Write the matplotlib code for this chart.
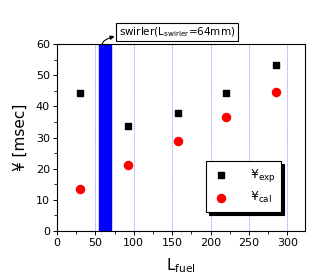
"""Delay time vs fuel injection length."""

import matplotlib.pyplot as plt
from matplotlib.ticker import MultipleLocator

l_fuel = [30, 92, 158, 220, 285]
tau_exp = [44.3, 33.7, 37.8, 44.2, 53.3]
tau_cal = [13.4, 21.1, 28.8, 36.6, 44.5]
grid_x = [50, 100, 150, 200, 250, 300]
swirler_span = (55, 70)

fig = plt.figure(figsize=(3.13, 2.74), dpi=100)
ax = fig.add_axes([57 / 313, 1 - 231 / 274, 248 / 313, 187 / 274])

for gx in grid_x:
    ax.axvline(gx, color="#8888ff", linestyle=(0, (2, 1)), linewidth=0.5, zorder=1)
ax.axvspan(*swirler_span, color="#0000ff", zorder=2)

ax.scatter(l_fuel, tau_exp, marker="s", s=24, color="black", zorder=3, label="¥$_{\\mathregular{exp}}$")
ax.scatter(l_fuel, tau_cal, marker="o", s=34, color="red", zorder=3, label="¥$_{\\mathregular{cal}}$")

ax.set_xlim(0, 323)
ax.set_ylim(0, 60)
ax.xaxis.set_major_locator(MultipleLocator(50))
ax.xaxis.set_minor_locator(MultipleLocator(25))
ax.yaxis.set_major_locator(MultipleLocator(10))
ax.yaxis.set_minor_locator(MultipleLocator(5))
ax.tick_params(labelsize=8, length=3, width=0.7, pad=2)
ax.tick_params(which="minor", length=2, width=0.6)
for spine in ax.spines.values():
    spine.set_linewidth(0.8)

ax.set_ylabel("¥ [msec]", fontsize=11, labelpad=6)
ax.set_xlabel("L$_{\\mathregular{fuel}}$", fontsize=11, labelpad=6)

ax.annotate(
    "swirler(L$_{\\mathregular{swirler}}$=64mm)",
    xy=(102 / 313, 1 - 45 / 274), xycoords="figure fraction",
    xytext=(119 / 313, 1 - 32 / 274), textcoords="figure fraction",
    fontsize=7.5, va="center", ha="left",
    bbox=dict(boxstyle="square,pad=0.25", fc="white", ec="black", lw=0.8),
    arrowprops=dict(arrowstyle="<|-", color="black", lw=0.8, mutation_scale=6,
                    shrinkA=1, shrinkB=0, connectionstyle="angle3,angleA=0,angleB=90"),
)

leg = ax.legend(loc="lower right", bbox_to_anchor=(0.93, 0.07), fontsize=9, frameon=True,
                fancybox=False, shadow={"color": "black", "alpha": 1, "ox": 2.2, "oy": -2.2},
                handletextpad=1.5, borderpad=0.5, labelspacing=0.5, handlelength=1.5)
leg.get_frame().set_edgecolor("black")
leg.get_frame().set_linewidth(0.8)

fig.savefig("out.png", dpi=100)
